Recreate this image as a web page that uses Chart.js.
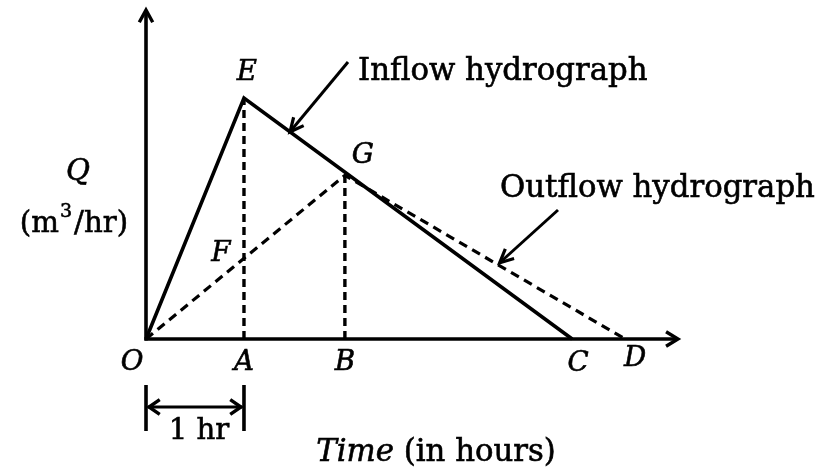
<!DOCTYPE html>
<html><head><meta charset="utf-8">
<script src="https://cdn.jsdelivr.net/npm/chart.js@4/dist/chart.umd.min.js"></script>
<style>html,body{margin:0;padding:0;background:#fff;}canvas{display:block;}</style>
</head><body>
<canvas id="c" width="817" height="475"></canvas>
<script>
// ---- data (time in hours, Q in arbitrary units) ----
const inflowTime = [0, 1, 4.35];
const inflowQ    = [0, 2.93, 0];
const outflowTime = [0, 2.03, 4.89];
const outflowQ    = [0, 1.99, 0];
const timeMax = 5.43;
const qMax = 4;
const unitSpan = [0, 1];              // "1 hr" dimension
const seriesNames = ['Inflow hydrograph', 'Outflow hydrograph'];
const xTitleParts = ['Time', ' (in hours)'];
const yTitleParts = ['Q', '(m', '3', '/hr)'];
const unitLabel = '1 hr';
const pointNames = ['O','A','B','C','D','E','F','G'];

const FAM = '"DejaVu Serif", serif';
const pt = (t, q) => ({x: t, y: q});
const fQ = outflowQ[1] * inflowTime[1] / outflowTime[1]; // intersection F on OG at A

const labelPts = {
  O: pt(0, 0), A: pt(inflowTime[1], 0), B: pt(outflowTime[1], 0),
  C: pt(inflowTime[2], 0), D: pt(outflowTime[2], 0),
  E: pt(inflowTime[1], inflowQ[1]), F: pt(inflowTime[1], fQ), G: pt(outflowTime[1], outflowQ[1])
};
const labelOff = {O:[-14,24], A:[0,24], B:[0,24], C:[6,25], D:[10,20], E:[3,-25], F:[-23,-5], G:[18,-20]};

function fit(ctx, text, style, target) {
  ctx.font = style + ' 100px ' + FAM;
  return 100 * target / ctx.measureText(text).width;
}
function txt(ctx, s, x, y) {
  ctx.save();
  ctx.fillText(s, x, y);
  ctx.lineWidth = 0.6;
  ctx.strokeText(s, x, y);
  ctx.restore();
}
function vHead(ctx, x, y, ang, len, spread, w) {
  ctx.save();
  ctx.lineWidth = w;
  ctx.beginPath();
  ctx.moveTo(x + len*Math.cos(ang+spread), y + len*Math.sin(ang+spread));
  ctx.lineTo(x, y);
  ctx.lineTo(x + len*Math.cos(ang-spread), y + len*Math.sin(ang-spread));
  ctx.stroke();
  ctx.restore();
}
function seg(ctx, x1, y1, x2, y2, w) {
  ctx.save();
  ctx.lineWidth = w;
  ctx.beginPath(); ctx.moveTo(x1, y1); ctx.lineTo(x2, y2); ctx.stroke();
  ctx.restore();
}

const diagram = {
  id: 'diagram',
  beforeDatasetsDraw(chart) {
    const {ctx, scales:{x, y}} = chart;
    const x0 = x.getPixelForValue(0), y0 = y.getPixelForValue(0);
    const xe = x.getPixelForValue(timeMax), ye = y.getPixelForValue(qMax);
    ctx.save();
    ctx.strokeStyle = '#000'; ctx.lineCap = 'butt';
    seg(ctx, x0, y0+1.5, x0, ye+1, 3.6);
    seg(ctx, x0-1.5, y0, xe-1, y0, 3.6);
    vHead(ctx, x0, ye, Math.PI/2, 14, 0.5, 3.4);
    vHead(ctx, xe, y0, Math.PI, 14, 0.55, 3.4);
    ctx.restore();
  },
  afterDatasetsDraw(chart) {
    const {ctx, scales:{x, y}} = chart;
    ctx.save();
    ctx.fillStyle = '#000'; ctx.strokeStyle = '#000';
    const sz = fit(ctx, seriesNames[1], '', 315);
    // point labels
    ctx.textAlign = 'center'; ctx.textBaseline = 'middle';
    ctx.font = 'italic ' + (sz*0.9) + 'px ' + FAM;
    pointNames.forEach(n => {
      const p = labelPts[n], o = labelOff[n];
      txt(ctx, n, x.getPixelForValue(p.x) + o[0], y.getPixelForValue(p.y) + o[1]);
    });
    // series labels with pointer arrows
    ctx.font = sz + 'px ' + FAM;
    ctx.textAlign = 'left'; ctx.textBaseline = 'alphabetic';
    txt(ctx, seriesNames[0], 358, 80);
    txt(ctx, seriesNames[1], 500, 197);
    // inflow pointer: tip on inflow falling limb
    const ti = 1.47, qi = inflowQ[1] + (ti - inflowTime[1]) * (inflowQ[2]-inflowQ[1])/(inflowTime[2]-inflowTime[1]);
    let tx = x.getPixelForValue(ti), ty = y.getPixelForValue(qi);
    let sx = 348, sy = 62;
    seg(ctx, sx, sy, tx, ty, 3);
    vHead(ctx, tx, ty, Math.atan2(sy-ty, sx-tx), 15, 0.45, 3.2);
    // outflow pointer
    const to = 3.61, qo = outflowQ[1] + (to - outflowTime[1]) * (outflowQ[2]-outflowQ[1])/(outflowTime[2]-outflowTime[1]);
    tx = x.getPixelForValue(to); ty = y.getPixelForValue(qo) - 3;
    sx = 558; sy = 210;
    seg(ctx, sx, sy, tx, ty, 3);
    vHead(ctx, tx, ty, Math.atan2(sy-ty, sx-tx), 15, 0.45, 3.2);
    // y title
    ctx.textAlign = 'center';
    ctx.font = 'italic ' + (sz*0.95) + 'px ' + FAM;
    txt(ctx, yTitleParts[0], 78, 180);
    ctx.font = (sz*0.95) + 'px ' + FAM;
    const a = ctx.measureText(yTitleParts[1]).width, c = ctx.measureText(yTitleParts[3]).width;
    ctx.font = (sz*0.62) + 'px ' + FAM;
    const b = ctx.measureText(yTitleParts[2]).width + 3;
    let cx = 74 - (a + b + c)/2;
    ctx.textAlign = 'left';
    ctx.font = (sz*0.95) + 'px ' + FAM;
    txt(ctx, yTitleParts[1], cx, 232); cx += a;
    ctx.font = (sz*0.62) + 'px ' + FAM;
    txt(ctx, yTitleParts[2], cx + 1, 217); cx += b;
    ctx.font = (sz*0.95) + 'px ' + FAM;
    txt(ctx, yTitleParts[3], cx, 232);
    // x title
    ctx.font = 'italic ' + sz + 'px ' + FAM;
    const w1 = ctx.measureText(xTitleParts[0]).width;
    ctx.font = sz + 'px ' + FAM;
    const w2 = ctx.measureText(xTitleParts[1]).width;
    let start = 436 - (w1 + w2)/2;
    ctx.font = 'italic ' + sz + 'px ' + FAM;
    txt(ctx, xTitleParts[0], start, 461);
    ctx.font = sz + 'px ' + FAM;
    txt(ctx, xTitleParts[1], start + w1, 461);
    // 1 hr dimension
    const ux0 = x.getPixelForValue(unitSpan[0]), ux1 = x.getPixelForValue(unitSpan[1]);
    seg(ctx, ux0, 385, ux0, 431, 3.6);
    seg(ctx, ux1, 385, ux1, 431, 3.6);
    seg(ctx, ux0+2, 407, ux1-2, 407, 3);
    vHead(ctx, ux0+3, 407, 0, 13, 0.6, 3.4);
    vHead(ctx, ux1-3, 407, Math.PI, 13, 0.6, 3.4);
    ctx.textAlign = 'center';
    ctx.font = (sz*0.95) + 'px ' + FAM;
    txt(ctx, unitLabel, (ux0+ux1)/2 + 4, 439);
    ctx.restore();
  }
};

const line = (ts, qs, w, dash) => ({
  data: ts.map((t, i) => pt(t, qs[i])), showLine: true, borderColor: '#000',
  borderWidth: w, borderDash: dash, pointRadius: 0, tension: 0, fill: false, clip: false,
  borderJoinStyle: 'miter', borderCapStyle: 'butt'
});

new Chart(document.getElementById('c'), {
  type: 'scatter',
  data: { datasets: [
    line(inflowTime, inflowQ, 3.6, []),
    line(outflowTime, outflowQ, 3.2, [9, 6]),
    line([inflowTime[1], inflowTime[1]], [0, inflowQ[1]], 3.4, [8, 5]),
    line([outflowTime[1], outflowTime[1]], [0, outflowQ[1]], 3.4, [8, 5])
  ]},
  options: {
    responsive: false, animation: false, events: [],
    layout: { padding: { left: 146, right: 817 - 678, top: 10, bottom: 475 - 339 } },
    scales: {
      x: { type: 'linear', min: 0, max: timeMax, display: false },
      y: { type: 'linear', min: 0, max: qMax, display: false }
    },
    plugins: { legend: { display: false }, tooltip: { enabled: false } }
  },
  plugins: [diagram]
});
</script>
</body></html>
